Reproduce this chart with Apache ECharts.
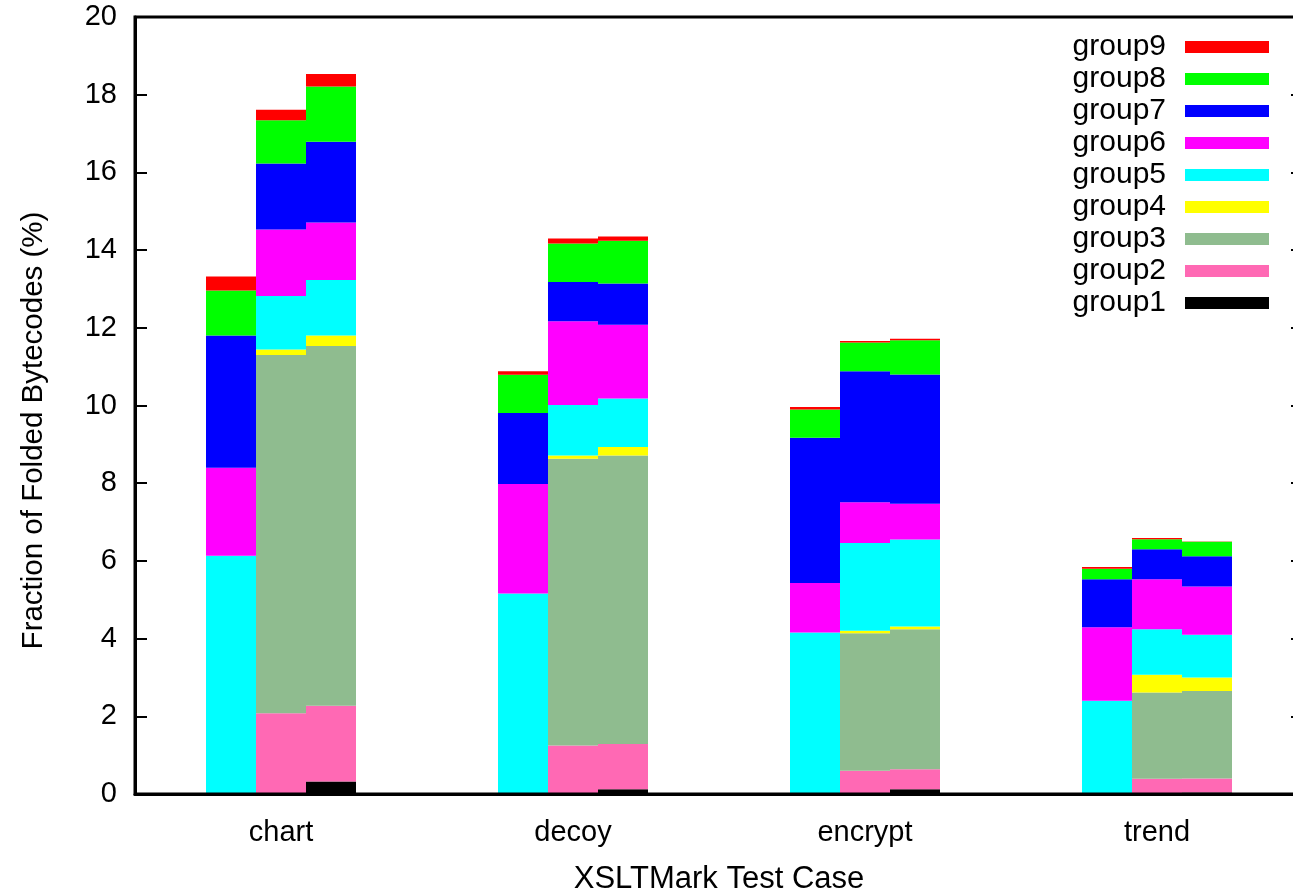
<!DOCTYPE html>
<html>
<head>
<meta charset="utf-8">
<script src="https://cdn.jsdelivr.net/npm/echarts@6/dist/echarts.min.js"></script>
<style>html,body{margin:0;padding:0;background:#fff;overflow:hidden}#c{width:1293px;height:895px}</style>
</head>
<body>
<div id="c"></div>
<script>
// Categories (XSLTMark test cases)
const categories = ['chart', 'decoy', 'encrypt', 'trend'];
// Y-axis ticks
const yMin = 0, yMax = 20, yStep = 2;
// Series names (bottom to top in each stack)
const groupNames = ['group1','group2','group3','group4','group5','group6','group7','group8','group9'];
// Values: each group has three bars per category [bar A, bar B, bar C], each over categories
const group1 = [[0, 0, 0, 0], [0, 0, 0, 0], [0.32, 0.12, 0.12, 0.04]];
const group2 = [[0, 0, 0, 0], [2.08, 1.25, 0.60, 0.39], [1.95, 1.17, 0.52, 0.36]];
const group3 = [[0, 0, 0, 0], [9.22, 7.38, 3.54, 2.22], [9.26, 7.42, 3.60, 2.25]];
const group4 = [[0, 0, 0, 0], [0.14, 0.08, 0.06, 0.46], [0.27, 0.22, 0.07, 0.35]];
const group5 = [[6.13, 5.16, 4.16, 2.40], [1.38, 1.30, 2.26, 1.17], [1.43, 1.25, 2.24, 1.10]];
const group6 = [[2.27, 2.82, 1.27, 1.89], [1.71, 2.16, 1.05, 1.29], [1.48, 1.90, 0.92, 1.24]];
const group7 = [[3.40, 1.83, 3.74, 1.24], [1.70, 1.01, 3.37, 0.77], [2.08, 1.06, 3.33, 0.78]];
const group8 = [[1.16, 0.98, 0.73, 0.27], [1.11, 0.99, 0.74, 0.26], [1.42, 1.10, 0.88, 0.37]];
const group9 = [[0.36, 0.09, 0.06, 0.04], [0.27, 0.13, 0.04, 0.03], [0.32, 0.11, 0.04, 0.01]];
const groupColors = ['#000000','#ff69b4','#8fbc8f','#ffff00','#00ffff','#ff00ff','#0000ff','#00ff00','#ff0000'];

const groups = [group1, group2, group3, group4, group5, group6, group7, group8, group9];
const FONT = '"Liberation Sans", Arial, sans-serif';

const series = [];
for (let b = 0; b < 3; b++) {
  for (let g = 0; g < groups.length; g++) {
    series.push({
      type: 'bar',
      name: groupNames[g],
      stack: 'bar' + b,
      barWidth: 50,
      barGap: '0%',
      itemStyle: { color: groupColors[g] },
      emphasis: { disabled: true },
      data: groups[g][b]
    });
  }
}

const chart = echarts.init(document.getElementById('c'), null, { renderer: 'canvas' });
chart.setOption({
  animation: false,
  backgroundColor: '#ffffff',
  textStyle: { fontFamily: FONT },
  grid: { left: 135, top: 17, bottom: 101, right: -10, outerBoundsMode: 'none', containLabel: false,
          show: true, borderColor: '#000', borderWidth: 3, z: 5 },
  legend: {
    orient: 'vertical',
    right: 24,
    top: 31,
    padding: 0,
    itemGap: 0,
    itemWidth: 84,
    itemHeight: 12,
    icon: 'rect',
    align: 'right',
    selectedMode: false,
    data: groupNames.slice().reverse(),
    textStyle: { fontFamily: FONT, fontSize: 30, color: '#000', lineHeight: 32, padding: [0, 14, 0, 0] }
  },
  xAxis: {
    type: 'category',
    data: categories,
    z: 10,
    name: 'XSLTMark Test Case',
    nameLocation: 'middle',
    nameGap: 70,
    nameTextStyle: { fontFamily: FONT, fontSize: 31, color: '#000' },
    axisLine: { lineStyle: { color: '#000', width: 3 } },
    axisTick: { show: false },
    axisLabel: { fontFamily: FONT, fontSize: 29, color: '#000', margin: 24 },
    splitLine: { show: false }
  },
  yAxis: [{
    type: 'value',
    min: yMin, max: yMax, interval: yStep,
    z: 10,
    name: 'Fraction of Folded Bytecodes (%)',
    nameLocation: 'middle',
    nameGap: 86,
    nameTextStyle: { fontFamily: FONT, fontSize: 29.5, color: '#000', padding: [0, 50, 0, 0] },
    axisLine: { show: true, lineStyle: { color: '#000', width: 3 } },
    axisTick: { show: true, inside: true, length: 12, lineStyle: { color: '#000', width: 2 } },
    axisLabel: { fontFamily: FONT, fontSize: 29, color: '#000', margin: 18 },
    splitLine: { show: false }
  }, {
    type: 'value',
    position: 'right',
    min: yMin, max: yMax, interval: yStep,
    z: 10,
    axisLine: { show: true, lineStyle: { color: '#000', width: 3 } },
    axisTick: { show: true, inside: true, length: 12, lineStyle: { color: '#000', width: 2 } },
    axisLabel: { show: false },
    splitLine: { show: false }
  }],
  series: series
});
</script>
</body>
</html>
